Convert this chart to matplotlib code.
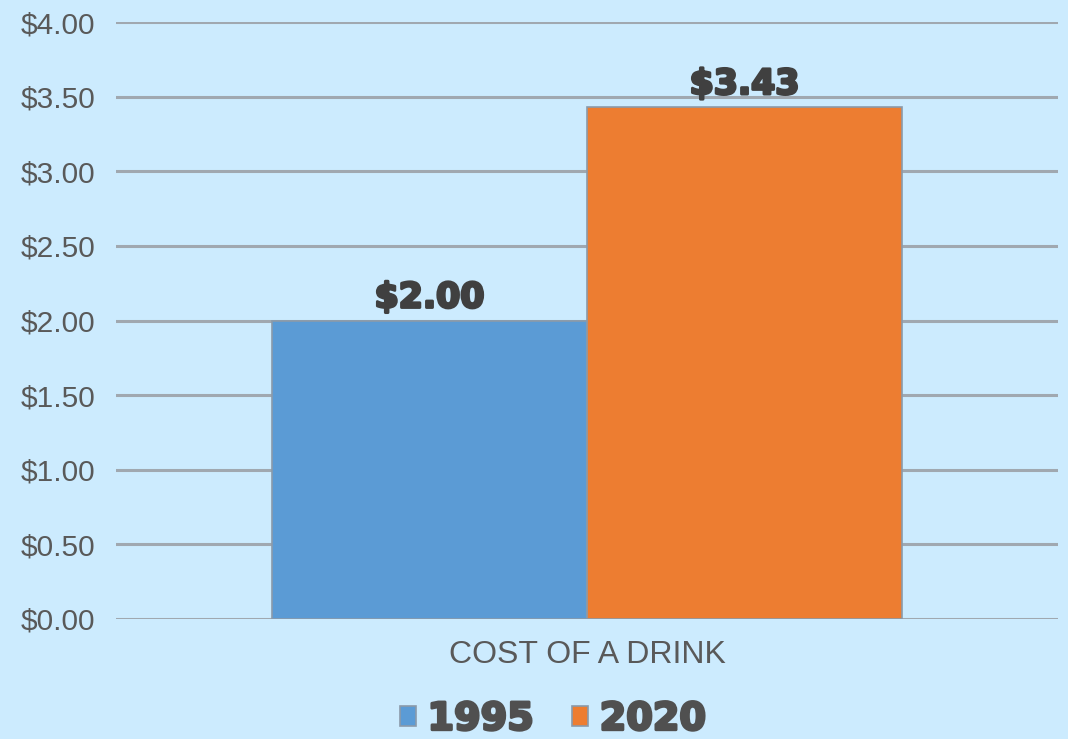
import matplotlib.pyplot as plt
import matplotlib.patheffects as pe
import numpy as np

category = 'COST OF A DRINK'
years = ['1995', '2020']
costs = [2.00, 3.43]
colors = ['#5B9BD5', '#ED7D31']
yticks = [0, 0.5, 1.0, 1.5, 2.0, 2.5, 3.0, 3.5, 4.0]

bg = '#CCEBFE'
fig = plt.figure(figsize=(10.68, 7.39), dpi=100, facecolor=bg)
ax = fig.add_axes([0.1086, 0.1624, 0.8820, 0.8078], facecolor=bg)

w = 1.0
offsets = (np.arange(len(years)) - (len(years) - 1) / 2) * w
bars = []
for off, val, col, yr in zip(offsets, costs, colors, years):
    b = ax.bar(off, val, width=w, color=col, edgecolor='#8A9AAA', linewidth=1.2,
               label=yr, zorder=3)
    bars.append(b)
    ax.text(off, val + 0.04, f'${val:.2f}', ha='center', va='bottom',
            fontsize=25, fontweight='bold', color='#404040', family='DejaVu Sans',
            path_effects=[pe.withStroke(linewidth=2.0, foreground='#404040')], zorder=4)

ax.set_xlim(-1.495, 1.495)
ax.set_ylim(0, 4.0)
ax.set_yticks(yticks)
ax.set_yticklabels([f'${t:.2f}' for t in yticks], fontsize=21.5, color='#595959',
                   family='Liberation Sans')
ax.set_xticks([0])
ax.set_xticklabels([category], fontsize=23, color='#595959', family='Liberation Sans')
ax.tick_params(axis='both', length=0)
ax.tick_params(axis='y', pad=15)
ax.tick_params(axis='x', pad=15)
ax.grid(axis='y', color='#A0A8B0', linewidth=2.2, zorder=0)
ax.set_axisbelow(True)
for s in ax.spines.values():
    s.set_visible(False)

leg = fig.legend(handles=[b[0] for b in bars], labels=years, loc='center',
                 bbox_to_anchor=(0.518, 0.026), ncol=2, frameon=False,
                 handlelength=0.42, handleheight=0.42, handletextpad=0.3,
                 columnspacing=1.0,
                 prop={'family': 'DejaVu Sans', 'weight': 'bold', 'size': 27.5})
for t in leg.get_texts():
    t.set_color('#505050')
    t.set_path_effects([pe.withStroke(linewidth=2.0, foreground='#505050')])

fig.savefig('out.png', dpi=100, facecolor=bg)
